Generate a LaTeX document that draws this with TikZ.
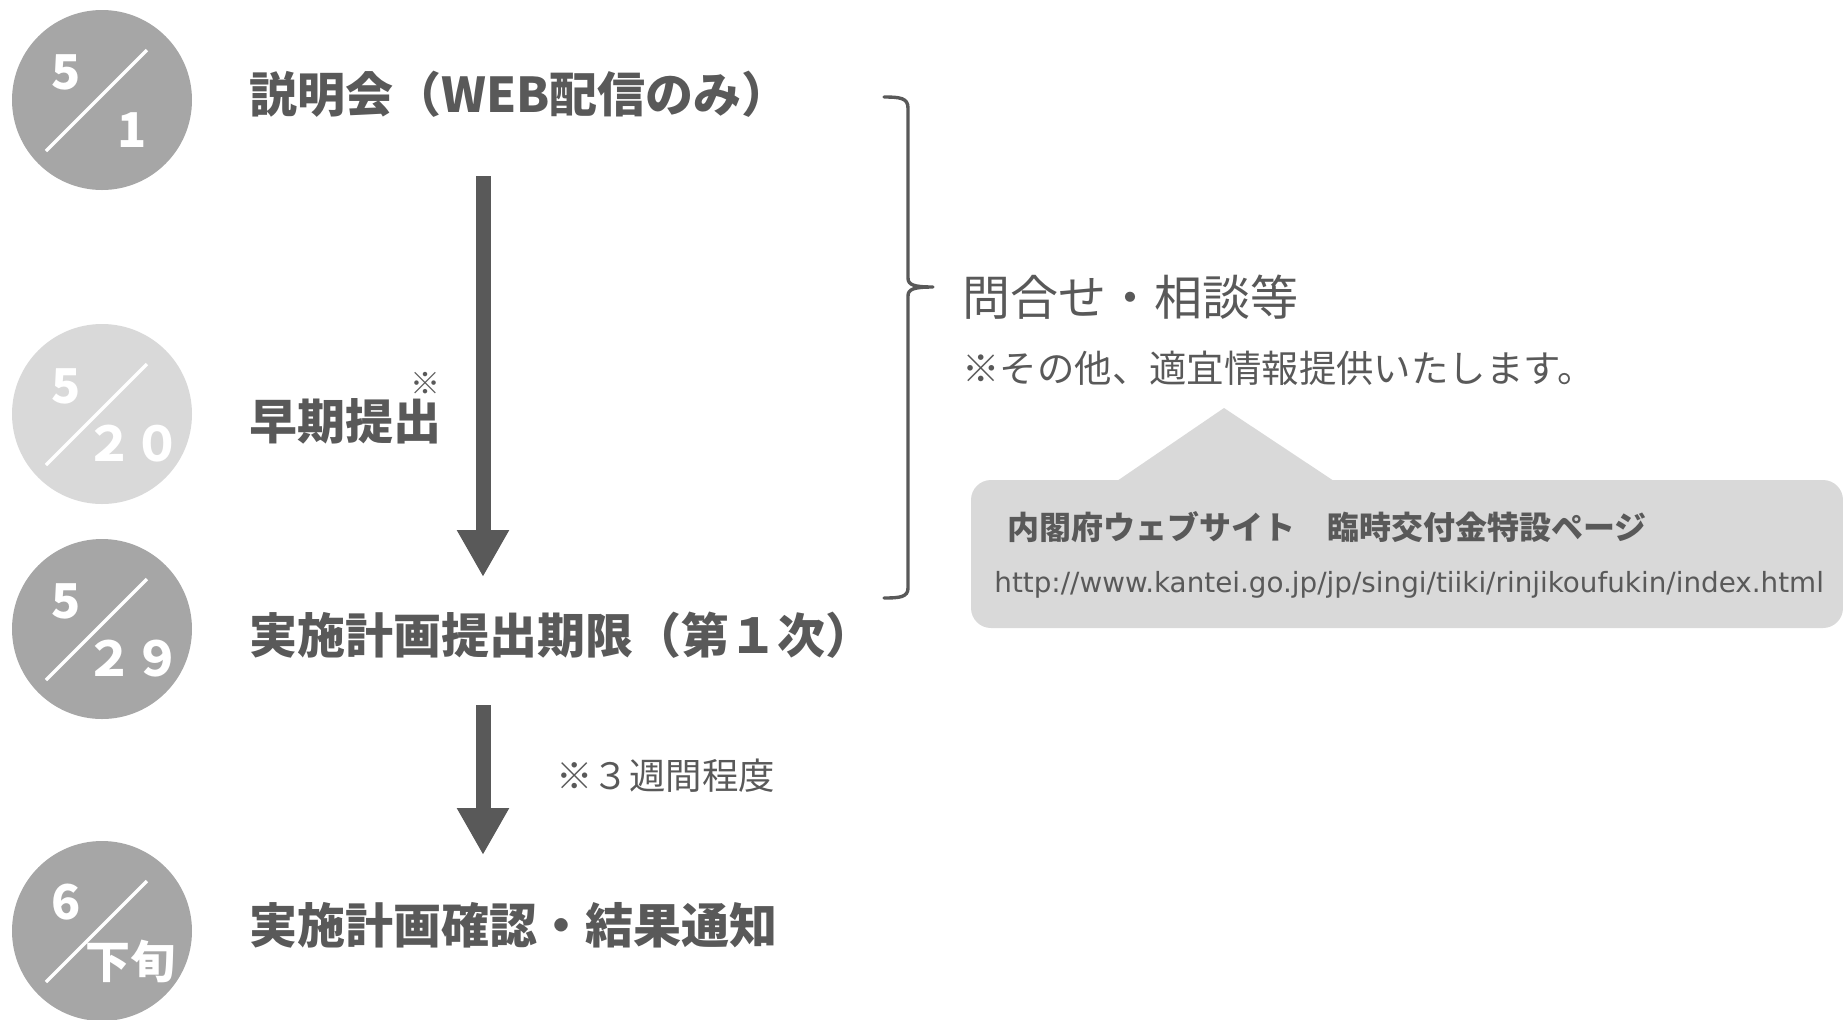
\documentclass[tikz,border=0pt]{standalone}
\usepackage{fontspec}
\setmainfont{Noto Sans CJK JP}
\newfontfamily\urlfont{DejaVu Sans}
\usetikzlibrary{arrows.meta}
\definecolor{dk}{HTML}{595959}
\definecolor{midg}{HTML}{A6A6A6}
\definecolor{ltg}{HTML}{D9D9D9}
\tikzset{
  datecirc/.style={circle, minimum size=90pt, inner sep=0pt, draw=none},
  slash/.style={white, line width=1.7pt},
  digit/.style={white, inner sep=0pt, font=\bfseries\fontsize{24}{26}\selectfont},
  mainlbl/.style={dk, inner sep=0pt, anchor=west, font=\bfseries\fontsize{24}{28}\selectfont},
  flowarrow/.style={dk, line width=7.5pt, -{Triangle[width=24.5pt, length=23.5pt]}},
  brace/.style={dk, line width=1.7pt, line cap=round, line join=round},
  note/.style={dk, inner sep=0pt, anchor=west},
}
\begin{document}
\begin{tikzpicture}[x=0.5pt, y=-0.5pt]
\useasboundingbox (0,0) rectangle (1843,1019);

% date circles
\node[datecirc, fill=midg] (c1) at (102,100) {};
\node[datecirc, fill=ltg]  (c2) at (102,414) {};
\node[datecirc, fill=midg] (c3) at (102,629) {};
\node[datecirc, fill=midg] (c4) at (102,931) {};
\foreach \c in {c1,c2,c3,c4}{
  \draw[slash] ([shift={(-56,51)}]\c.center) -- ([shift={(45,-50)}]\c.center);
}
\node[digit] (c1t) at ([shift={(-36,-28)}]c1.center) {5};
\node[digit] (c1b) at ([shift={(30,30)}]c1.center) {1};
\node[digit] (c2t) at ([shift={(-36,-28)}]c2.center) {5};
\node[digit] (c2b) at ([shift={(31,30)}]c2.center) {２０};
\node[digit] (c3t) at ([shift={(-36,-28)}]c3.center) {5};
\node[digit] (c3b) at ([shift={(31,30)}]c3.center) {２９};
\node[digit] (c4t) at ([shift={(-36,-29)}]c4.center) {6};
\node[digit, font=\bfseries\fontsize{22.5}{24}\selectfont] (c4b) at ([shift={(28,30)}]c4.center) {下旬};

% main labels
\node[mainlbl] (l1) at (249,94) {説明会（WEB配信のみ）};
\node[mainlbl] (l2) at (249,421) {早期提出};
\node[note, anchor=center, font=\fontsize{15}{17}\selectfont] (l2n) at (425,383) {※};
\node[mainlbl] (l3) at (249,635) {実施計画提出期限（第１次）};
\node[mainlbl] (l4) at (249,925) {実施計画確認・結果通知};

% arrows
\coordinate (a1s) at (483,176);
\coordinate (a1e) at (483,577);
\coordinate (a2s) at (483,705);
\coordinate (a2e) at (483,855);
\draw[flowarrow] (a1s) -- (a1e);
\draw[flowarrow] (a2s) -- (a2e);
\node[note, font=\fontsize{18.2}{20}\selectfont] (wk) at (556,776) {※３週間程度};

% brace
\coordinate (bt) at (884,97);
\coordinate (bb) at (884,598);
\coordinate (btip) at (933,287);
\draw[brace] (bt) .. controls (900,97) and (908,98) .. (908,108) -- (908,278)
  .. controls (908,285) and (914,287) .. (btip)
  .. controls (914,287) and (908,289) .. (908,296) -- (908,588)
  .. controls (908,597) and (900,598) .. (bb);

\node[note, font=\fontsize{24}{28}\selectfont] (inq) at (962,297) {問合せ・相談等};
\node[note, font=\fontsize{18.7}{22}\selectfont] (oth) at (962,368) {※その他、適宜情報提供いたします。};

% callout
\fill[ltg, rounded corners=10pt] (971,480) rectangle (1843,628);
\fill[ltg] (1117,481) -- (1224,408) -- (1334,481) -- cycle;
\node[note, font=\bfseries\fontsize{16}{18}\selectfont] (web) at (1007,527) {内閣府ウェブサイト　臨時交付金特設ページ};
\node[note, font=\urlfont\fontsize{13.9}{16}\selectfont] (url) at (994,585) {http://www.kantei.go.jp/jp/singi/tiiki/rinjikoufukin/index.html};
\end{tikzpicture}
\end{document}
